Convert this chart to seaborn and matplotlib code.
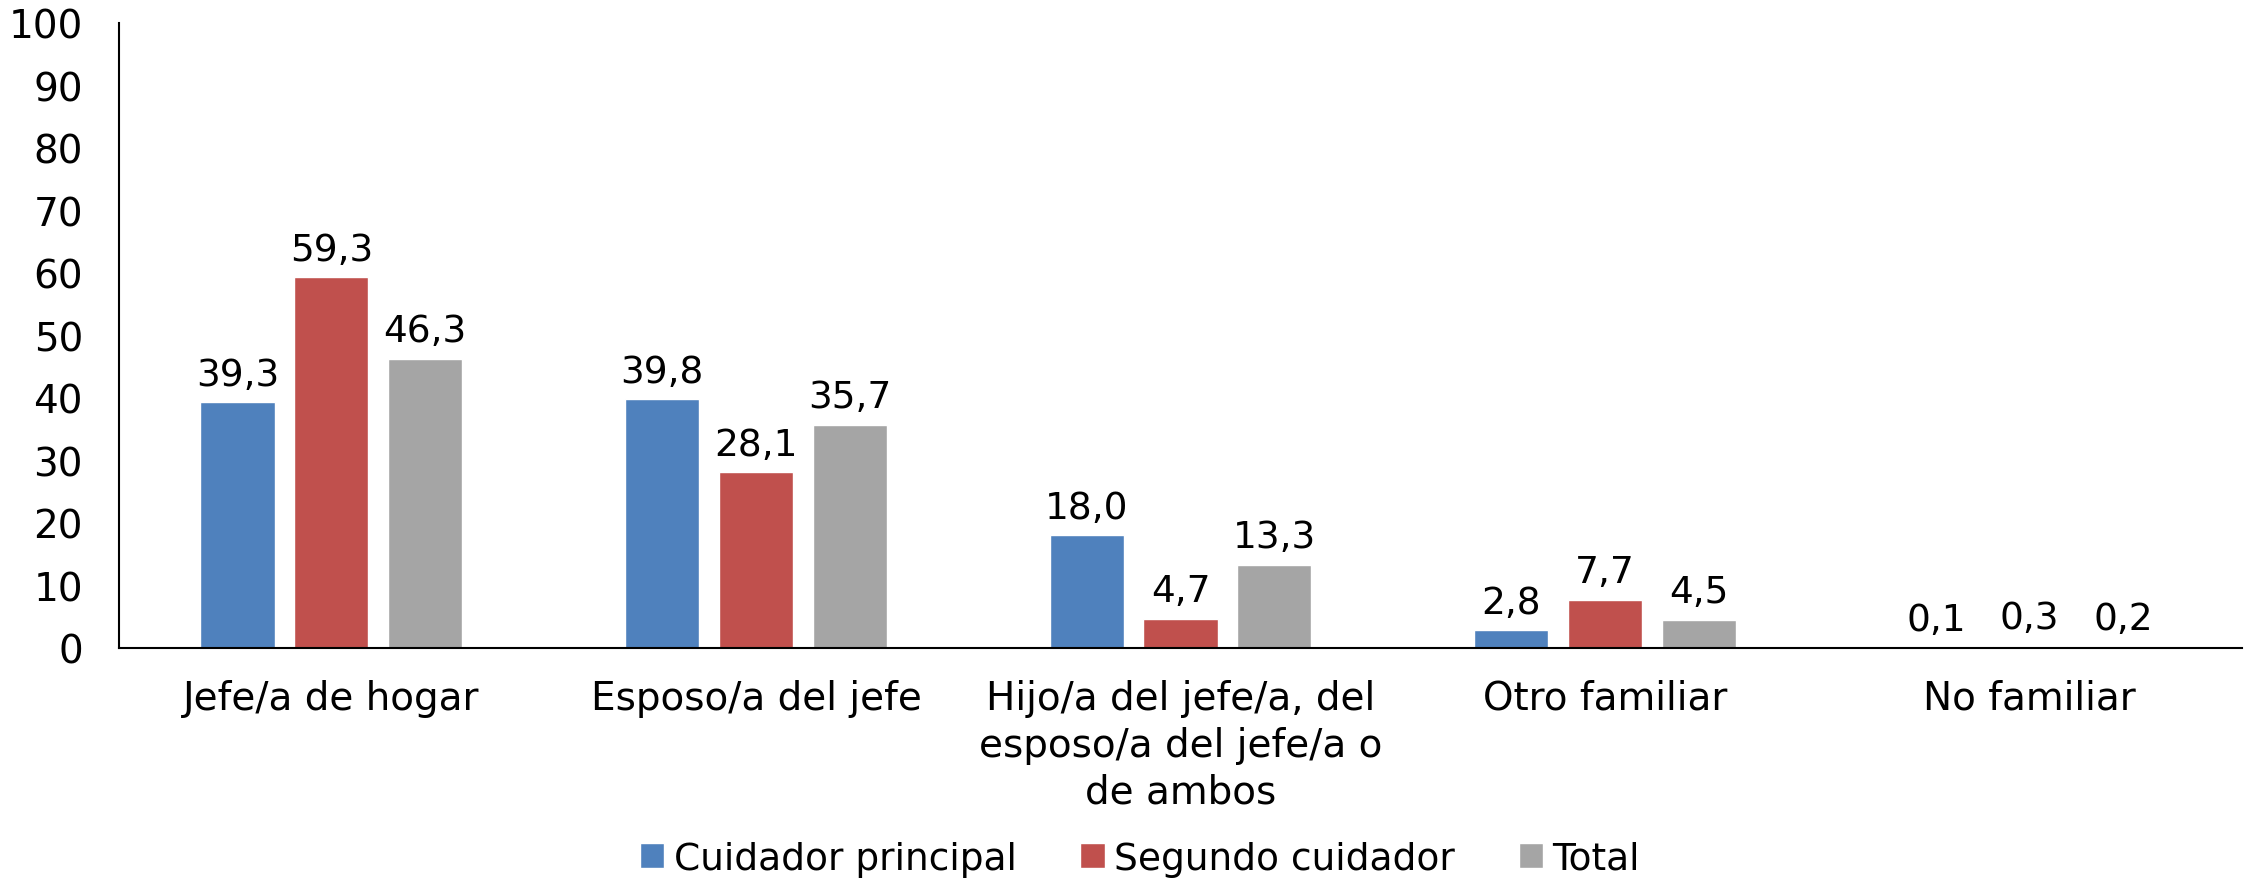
import seaborn as sns
import matplotlib.pyplot as plt
import pandas as pd

categorias = ["Jefe/a de hogar", "Esposo/a del jefe",
              "Hijo/a del jefe/a, del\nesposo/a del jefe/a o\nde ambos",
              "Otro familiar", "No familiar"]
series = ["Cuidador principal", "Segundo cuidador", "Total"]
cuidador_principal = [39.3, 39.8, 18.0, 2.8, 0.1]
segundo_cuidador = [59.3, 28.1, 4.7, 7.7, 0.3]
total = [46.3, 35.7, 13.3, 4.5, 0.2]
colores = ["#4F81BD", "#C0504D", "#A5A5A5"]

df = pd.DataFrame({
    "categoria": categorias * 3,
    "serie": [s for s in series for _ in categorias],
    "valor": cuidador_principal + segundo_cuidador + total,
})

sns.set_style("white")
plt.rcParams["font.family"] = ["DejaVu Sans"]
plt.rcParams["text.color"] = "black"
plt.rcParams["xtick.color"] = "black"
plt.rcParams["ytick.color"] = "black"

fig = plt.figure(figsize=(22.51, 8.79), dpi=100)
ax = fig.add_axes([0.0529, 0.2617, 0.9431, 0.711])

sns.barplot(data=df, x="categoria", y="valor", hue="serie", order=categorias,
            hue_order=series, palette=colores, width=0.663, gap=0.21,
            saturation=1, errorbar=None, ax=ax)

# etiquetas de datos con coma decimal
for cont in ax.containers:
    ax.bar_label(cont, fmt=lambda v: f"{v:.1f}".replace(".", ","),
                 padding=7, fontsize=27, color="black")

ax.set_ylim(0, 100)
ax.set_yticks(range(0, 101, 10))
ax.set_xlim(-0.5, 4.5)
ax.set_xlabel("")
ax.set_ylabel("")
ax.tick_params(axis="y", length=0, pad=26, labelsize=28, labelcolor="black")
ax.tick_params(axis="x", length=0, pad=22, labelsize=28, labelcolor="black")
for lbl in ax.get_xticklabels():
    lbl.set_linespacing(1.3)

sns.despine(ax=ax)
for side in ["left", "bottom"]:
    ax.spines[side].set_color("#000000")
    ax.spines[side].set_linewidth(1.5)

handles, labels = ax.get_legend_handles_labels()
ax.legend_.remove()
fig.legend(handles, labels, loc="center", bbox_to_anchor=(1140 / 2251, 1 - 860 / 879),
           ncol=3, frameon=False, fontsize=27, handlelength=0.65, handleheight=0.65,
           handletextpad=0.25, columnspacing=1.7, borderaxespad=0)

fig.savefig("out.png", dpi=100)
